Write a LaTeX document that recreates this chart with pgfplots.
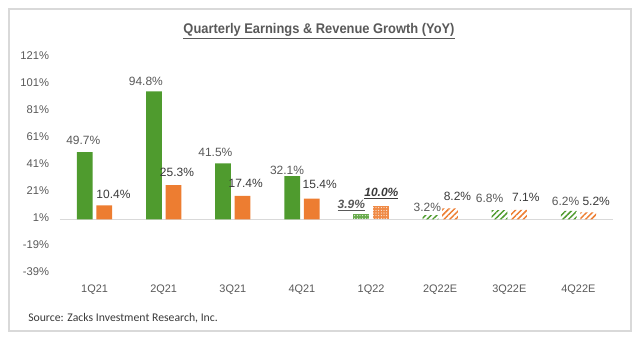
\documentclass[border=0pt]{standalone}
\usepackage{pgfplots}
\pgfplotsset{compat=1.18}
\usepackage{pgfplotstable}
\usepackage{fontspec}
\setmainfont{Liberation Sans}
\newfontfamily\carlito{Carlito}
\newfontfamily\titlefont[FakeStretch=0.92]{Liberation Sans}
\usetikzlibrary{patterns,patterns.meta}
\definecolor{cgreen}{HTML}{4F9B2E}
\definecolor{corange}{HTML}{ED7D31}
\definecolor{cgray}{HTML}{595959}
\definecolor{cdark}{HTML}{3A3A3A}
\definecolor{cframe}{HTML}{D9D9D9}

% x = category index, y = growth (%), dx/dy = label offset (pt)
\pgfplotstableread{
x y dx dy
0 49.7 -1.1 9.2
1 94.8 -6.0 7.5
2 41.5 -5.7 8.0
3 32.1 -3.8 4.5
}\earnA
\pgfplotstableread{
x y dx dy
4 3.9 -7.5 6.3
}\earnB
\pgfplotstableread{
x y dx dy
5 3.2 -2.3 6.0
6 6.8 -7.5 9.0
7 6.2 -2.3 7.5
}\earnC
\pgfplotstableread{
x y dx dy
0 10.4 6.8 8.5
1 25.3 2.6 9.8
2 17.4 2.3 9.4
3 15.4 6.0 10.4
}\revA
\pgfplotstableread{
x y dx dy
4 10.0 0.4 9.0
}\revB
\pgfplotstableread{
x y dx dy
5 8.2 5.6 9.0
6 7.1 5.0 9.0
7 5.2 6.0 8.3
}\revC

\begin{document}
\begin{tikzpicture}
\path[use as bounding box] (-45pt,-51.75pt) rectangle (435pt,204pt);
\draw[cframe, line width=0.8pt] (-38.25pt,-44.25pt) rectangle (428.25pt,197.25pt);
\begin{axis}[
  at={(0,0)}, anchor=south west,
  scale only axis,
  width=414.75pt, height=162pt,
  xmin=-0.5, xmax=7.5,
  ymin=-39, ymax=121,
  ytick={-39,-19,1,21,41,61,81,101,121},
  yticklabel={\pgfmathprintnumber{\tick}\%},
  xtick={0,...,7},
  xticklabels={1Q21,2Q21,3Q21,4Q21,1Q22,2Q22E,3Q22E,4Q22E},
  /pgf/number format/assume math mode=true,
  major tick length=0pt,
  axis line style={draw=none},
  yticklabel style={font=\fontsize{8.4}{10}\selectfont, text=cgray, anchor=east, xshift=-4.7pt},
  xticklabel style={font=\fontsize{8.2}{10}\selectfont, text=cgray, yshift=-6pt},
  extra y ticks={0},
  extra y tick labels={},
  extra y tick style={grid=major, major grid style={draw=cframe, line width=0.9pt}},
  ybar, bar width=11.8pt,
  point meta=y,
  visualization depends on={\thisrow{dx} \as \dx},
  visualization depends on={\thisrow{dy} \as \dy},
  nodes near coords style={anchor=center, xshift=\dx pt, yshift=\dy pt, font=\fontsize{9}{10}\selectfont, inner sep=0pt},
  clip=false,
]
% Earnings (green)
\addplot[bar shift=-7.35pt, draw=none, fill=cgreen,
  nodes near coords={\pgfmathprintnumber[fixed,precision=1,fixed zerofill]{\pgfplotspointmeta}\%},
  nodes near coords style={text=cgray}] table[x=x,y=y] {\earnA};
\addplot[bar shift=-7.35pt, draw=none, fill=cgreen!85!white,
  postaction={pattern={Dots[distance=2pt,radius=0.4pt]}, pattern color=white},
  nodes near coords={\underline{\textbf{\textit{\pgfmathprintnumber[fixed,precision=1,fixed zerofill]{\pgfplotspointmeta}\%}}}},
  nodes near coords style={text=cgray}] table[x=x,y=y] {\earnB};
\addplot[bar shift=-7.35pt, draw=none,
  pattern={Lines[angle=45,distance=3pt,line width=1.1pt]}, pattern color=cgreen,
  nodes near coords={\pgfmathprintnumber[fixed,precision=1,fixed zerofill]{\pgfplotspointmeta}\%},
  nodes near coords style={text=cgray}] table[x=x,y=y] {\earnC};
% Revenue (orange)
\addplot[bar shift=7.35pt, draw=none, fill=corange,
  nodes near coords={\pgfmathprintnumber[fixed,precision=1,fixed zerofill]{\pgfplotspointmeta}\%},
  nodes near coords style={text=cdark}] table[x=x,y=y] {\revA};
\addplot[bar shift=7.35pt, draw=none, fill=corange!90!white,
  postaction={pattern={Dots[distance=2pt,radius=0.4pt]}, pattern color=white},
  nodes near coords={\underline{\textbf{\textit{\pgfmathprintnumber[fixed,precision=1,fixed zerofill]{\pgfplotspointmeta}\%}}}},
  nodes near coords style={text=cdark}] table[x=x,y=y] {\revB};
\addplot[bar shift=7.35pt, draw=none,
  pattern={Lines[angle=45,distance=3pt,line width=1.1pt]}, pattern color=corange,
  nodes near coords={\pgfmathprintnumber[fixed,precision=1,fixed zerofill]{\pgfplotspointmeta}\%},
  nodes near coords style={text=cdark}] table[x=x,y=y] {\revC};
\end{axis}
\node[text=cgray, font=\titlefont\bfseries\fontsize{10.5}{12}\selectfont] at (194.25pt,180.75pt) {\underline{Quarterly Earnings \& Revenue Growth (YoY)}};
\node[anchor=west, inner sep=0pt, text=cdark, font=\carlito\fontsize{8.8}{10}\selectfont] at (-24pt,-34.5pt) {Source: Zacks Investment Research, Inc.};
\end{tikzpicture}
\end{document}
